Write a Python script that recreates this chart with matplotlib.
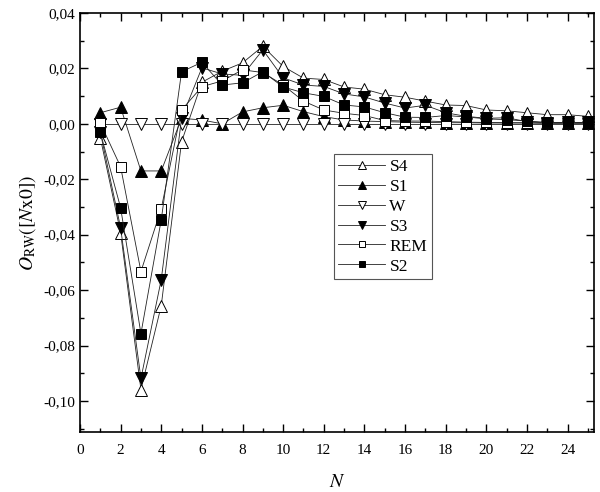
import matplotlib
matplotlib.use('Agg')
import matplotlib.pyplot as plt
from matplotlib.ticker import MultipleLocator, FuncFormatter

plt.rcParams['font.family'] = ['Liberation Serif', 'DejaVu Serif']
plt.rcParams['mathtext.fontset'] = 'stix'

N = list(range(1, 26))

# values
s4 = [-0.005, -0.0393, -0.0959, -0.0656, -0.0065, 0.015, 0.019, 0.022, 0.028, 0.0207,
      0.0165, 0.016, 0.0133, 0.0125, 0.0105, 0.0096, 0.0082, 0.0068, 0.0066, 0.005,
      0.0047, 0.004, 0.0033, 0.0033, 0.0027]
s1 = [0.004, 0.006, -0.017, -0.017, 0.002, 0.0014, 0.0, 0.0043, 0.0058, 0.0067,
      0.0044, 0.0026, 0.0014, 0.001, 0.0008, 0.0006, 0.0005, 0.0004, 0.0004, 0.0003,
      0.0003, 0.0003, 0.0002, 0.0002, 0.0002]
w = [0.0] * 25
s3 = [-0.003, -0.0375, -0.0919, -0.0562, 0.002, 0.0202, 0.0180, 0.0175, 0.0267, 0.0166,
      0.014, 0.0135, 0.0108, 0.0097, 0.0075, 0.0057, 0.0067, 0.004, 0.0027, 0.002,
      0.0022, 0.0008, 0.0004, 0.0005, 0.0005]
rem = [0.0003, -0.0155, -0.0533, -0.0306, 0.005, 0.0134, 0.0155, 0.0195, 0.0185, 0.014,
       0.0082, 0.005, 0.0038, 0.003, 0.0012, 0.001, 0.001, 0.0008, 0.0006, 0.0005,
       0.0004, 0.0004, 0.0003, 0.0003, 0.0003]
s2 = [-0.003, -0.0303, -0.0757, -0.0346, 0.0188, 0.0222, 0.014, 0.0148, 0.0188, 0.0133,
      0.0112, 0.0099, 0.0068, 0.0061, 0.004, 0.0024, 0.0023, 0.003, 0.0025, 0.0018,
      0.0015, 0.001, 0.0005, 0.0005, 0.0004]

series = [
    ('S4', s4, '^', 'white'),
    ('S1', s1, '^', 'black'),
    ('W', w, 'v', 'white'),
    ('S3', s3, 'v', 'black'),
    ('REM', rem, 's', 'white'),
    ('S2', s2, 's', 'black'),
]

fig = plt.figure(figsize=(6, 4.92), dpi=100)
ax = fig.add_axes([0.1333, 0.122, 0.8567, 0.8516])

for name, vals, marker, face in series:
    ms = 6.5 if marker == 's' else 8
    ax.plot(N, vals, color='#222222', lw=0.6, marker=marker, ms=ms,
            mfc=face, mec='black', mew=0.7, label=name)

ax.set_xlim(0, 25.3)
ax.set_ylim(-0.1112, 0.04)
ax.xaxis.set_major_locator(MultipleLocator(2))
ax.xaxis.set_minor_locator(MultipleLocator(1))
ax.yaxis.set_major_locator(MultipleLocator(0.02))
ax.yaxis.set_minor_locator(MultipleLocator(0.01))
ax.yaxis.set_major_formatter(FuncFormatter(lambda v, p: f'{v:.2f}'.replace('.', ',').replace('-0,00', '0,00')))
ax.tick_params(which='both', direction='in', top=True, right=True, labelsize=11, width=1)
ax.tick_params(which='major', length=6)
ax.tick_params(which='minor', length=3)
ax.tick_params(axis='x', pad=9)
for sp in ax.spines.values():
    sp.set_linewidth(1.2)

ax.set_xlabel(r'$N$', fontsize=14, labelpad=12)
ax.set_ylabel(r'$O_{\mathrm{RW}}(\mathrm{[}N\mathrm{x0])}$', fontsize=14, labelpad=4)

leg = ax.legend(loc='upper left', bbox_to_anchor=(0.494, 0.663), fontsize=12.5,
                fancybox=False, edgecolor='#555555', framealpha=1, handlelength=2.7,
                markerscale=0.75, borderaxespad=0, labelspacing=0.22, handletextpad=0.25,
                borderpad=0.25)
leg.get_frame().set_linewidth(0.8)

fig.savefig('out.png', dpi=100)
